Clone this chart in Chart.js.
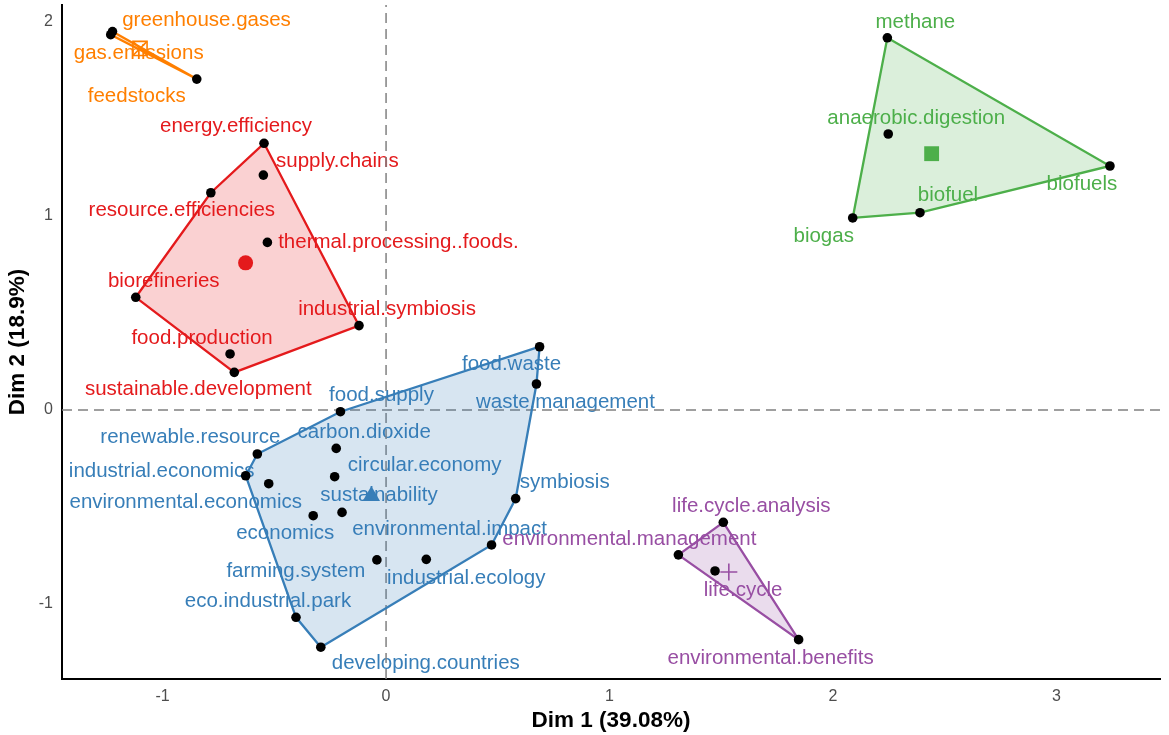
<!DOCTYPE html>
<html>
<head>
<meta charset="utf-8">
<script src="https://cdn.jsdelivr.net/npm/chart.js@4.4.0/dist/chart.umd.min.js"></script>
<style>
html,body{margin:0;padding:0;background:#fff}
#wrap{width:1169px;height:735px;position:relative}
</style>
</head>
<body>
<div id="wrap"><canvas id="myChart"></canvas></div>
<script>
// axis limits, ticks and titles
var xMin = -1.45, xMax = 3.463, yMin = -1.387, yMax = 2.088;
var xTicks = [-1, 0, 1, 2, 3];
var yTicks = [-1, 0, 1, 2];
var xTitle = 'Dim 1 (39.08%)';
var yTitle = 'Dim 2 (18.9%)';

// cluster 1 (orange)
var orangeNames = ['greenhouse.gases', 'gas.emissions', 'feedstocks'];
var orangeX = [-1.224, -1.232, -0.847];
var orangeY = [1.951, 1.935, 1.706];

// cluster 2 (red)
var redNames = ['energy.efficiency', 'supply.chains', 'resource.efficiencies', 'thermal.processing..foods.',
  'biorefineries', 'industrial.symbiosis', 'food.production', 'sustainable.development'];
var redX = [-0.546, -0.549, -0.784, -0.531, -1.120, -0.121, -0.698, -0.679];
var redY = [1.375, 1.211, 1.120, 0.864, 0.581, 0.435, 0.289, 0.194];

// cluster 3 (blue)
var blueNames = ['food.waste', 'waste.management', 'food.supply', 'renewable.resource', 'carbon.dioxide',
  'industrial.economics', 'environmental.economics', 'circular.economy', 'sustainability', 'symbiosis',
  'economics', 'environmental.impact', 'farming.system', 'industrial.ecology', 'eco.industrial.park',
  'developing.countries'];
var blueX = [0.687, 0.673, -0.204, -0.576, -0.223, -0.628, -0.525, -0.230, -0.197, 0.580,
  -0.326, 0.472, -0.041, 0.180, -0.403, -0.292];
var blueY = [0.326, 0.134, -0.009, -0.227, -0.198, -0.339, -0.380, -0.344, -0.528, -0.457,
  -0.545, -0.696, -0.773, -0.770, -1.069, -1.223];

// cluster 4 (purple)
var purpleNames = ['life.cycle.analysis', 'environmental.management', 'life.cycle', 'environmental.benefits'];
var purpleX = [1.509, 1.308, 1.472, 1.846];
var purpleY = [-0.579, -0.747, -0.830, -1.184];

// cluster 5 (green)
var greenNames = ['methane', 'anaerobic.digestion', 'biofuels', 'biofuel', 'biogas'];
var greenX = [2.243, 2.247, 3.239, 2.389, 2.088];
var greenY = [1.919, 1.423, 1.258, 1.017, 0.990];

// label placement (pixel offsets from the point, like ggrepel)
var orangeOff = [[94, -11], [28, 19], [-60, 17]];
var redOff = [[-28, -17], [74, -14], [-29, 18], [131, 0], [28, -16], [28, -16], [-28, -16], [-36, 17]];
var blueOff = [[-28, 18], [29, 18], [41, -16], [-67, -17], [28, -16], [-84, -4], [-83, 19], [90, -11],
  [37, -17], [49, -16], [-28, 18], [-42, -16], [-81, 11], [40, 19], [-28, -16], [105, 16]];
var purpleOff = [[28, -16], [-49, -16], [28, 19], [-28, 19]];
var greenOff = [[28, -15], [28, -16], [-28, 18], [28, -17], [-29, 18]];

var groups = [
  {names: orangeNames, x: orangeX, y: orangeY, off: orangeOff, col: '#FF7F00', fill: 'rgba(255,127,0,0.2)', shape: 'rect', r: 10, open: true},
  {names: redNames, x: redX, y: redY, off: redOff, col: '#E41A1C', fill: 'rgba(228,26,28,0.2)', shape: 'circle', r: 7.5},
  {names: blueNames, x: blueX, y: blueY, off: blueOff, col: '#377EB8', fill: 'rgba(55,126,184,0.2)', shape: 'triangle', r: 10},
  {names: purpleNames, x: purpleX, y: purpleY, off: purpleOff, col: '#984EA3', fill: 'rgba(152,78,163,0.2)', shape: 'cross', r: 8.5, open: true},
  {names: greenNames, x: greenX, y: greenY, off: greenOff, col: '#4DAF4A', fill: 'rgba(77,175,74,0.2)', shape: 'rect', r: 10.5}
];

var labelFont = '20.5px "Liberation Sans", Arial, sans-serif';

function hull(pts) {
  var p = pts.slice().sort((a, b) => a.x - b.x || a.y - b.y);
  var cross = (o, a, b) => (a.x - o.x) * (b.y - o.y) - (a.y - o.y) * (b.x - o.x);
  var lower = [], upper = [];
  p.forEach(q => {
    while (lower.length >= 2 && cross(lower[lower.length - 2], lower[lower.length - 1], q) <= 0) lower.pop();
    lower.push(q);
  });
  p.slice().reverse().forEach(q => {
    while (upper.length >= 2 && cross(upper[upper.length - 2], upper[upper.length - 1], q) <= 0) upper.pop();
    upper.push(q);
  });
  var h = lower.slice(0, -1).concat(upper.slice(0, -1));
  h.push(h[0]);
  return h;
}

var datasets = [];
// dashed zero lines
datasets.push({data: [{x: 0, y: yMin}, {x: 0, y: yMax}], showLine: true, pointRadius: 0, borderColor: '#808080',
  borderWidth: 1.5, borderDash: [10, 6], fill: false, order: 9});
datasets.push({data: [{x: xMin, y: 0}, {x: xMax, y: 0}], showLine: true, pointRadius: 0, borderColor: '#808080',
  borderWidth: 1.5, borderDash: [10, 6], fill: false, order: 9});

groups.forEach(g => {
  var pts = g.x.map((v, i) => ({x: v, y: g.y[i]}));
  datasets.push({data: hull(pts), showLine: true, pointRadius: 0, borderColor: g.col, borderWidth: 2.3,
    backgroundColor: g.fill, fill: 'shape', tension: 0, order: 5});
});
groups.forEach(g => {
  var pts = g.x.map((v, i) => ({x: v, y: g.y[i]}));
  datasets.push({data: pts, pointRadius: 4.8, pointBackgroundColor: '#000', pointBorderColor: '#000',
    pointBorderWidth: 0, order: 2});
});
groups.forEach(g => {
  var cx = g.x.reduce((a, b) => a + b, 0) / g.x.length;
  var cy = g.y.reduce((a, b) => a + b, 0) / g.y.length;
  datasets.push({data: [{x: cx, y: cy}], pointStyle: g.shape, pointRadius: g.r,
    pointBackgroundColor: g.open ? 'rgba(0,0,0,0)' : g.col, pointBorderColor: g.col,
    pointBorderWidth: g.open ? 1.6 : 0, order: 1});
  if (g.shape === 'rect' && g.open) {
    datasets.push({data: [{x: cx, y: cy}], pointStyle: 'crossRot', pointRadius: g.r,
      pointBorderColor: g.col, pointBorderWidth: 1.6, order: 1});
  }
});

var labelPlugin = {
  id: 'pointLabels',
  beforeDatasetsDraw(chart) {
    var c = chart.ctx, xs = chart.scales.x, ys = chart.scales.y;
    c.save();
    c.font = labelFont;
    c.textAlign = 'center';
    c.textBaseline = 'middle';
    groups.forEach(g => {
      c.fillStyle = g.col;
      g.names.forEach((n, i) => {
        c.fillText(n, xs.getPixelForValue(g.x[i]) + g.off[i][0], ys.getPixelForValue(g.y[i]) + g.off[i][1]);
      });
    });
    c.restore();
  }
};

var ctx = document.getElementById('myChart').getContext('2d');
var myChart = new Chart(ctx, {
  type: 'scatter',
  data: {datasets: datasets},
  plugins: [labelPlugin],
  options: {
    responsive: true,
    maintainAspectRatio: false,
    animation: false,
    layout: {autoPadding: false, padding: {top: 5, right: 9, left: 0, bottom: 0}},
    plugins: {legend: {display: false}, tooltip: {enabled: false}},
    scales: {
      x: {
        type: 'linear', min: xMin, max: xMax,
        grid: {display: false, drawTicks: false},
        border: {display: true, color: '#000', width: 2},
        ticks: {color: '#4d4d4d', padding: 8, font: {size: 16, family: '"Liberation Sans", Arial, sans-serif'}},
        title: {display: true, text: xTitle, color: '#000', padding: {top: 0, bottom: 1},
          font: {size: 22.5, weight: 'bold', family: '"Liberation Sans", Arial, sans-serif'}},
        afterBuildTicks: s => { s.ticks = xTicks.map(v => ({value: v})); },
        afterFit: s => { s.height = 56; s.paddingLeft = 0; s.paddingRight = 0; }
      },
      y: {
        type: 'linear', min: yMin, max: yMax,
        grid: {display: false, drawTicks: false},
        border: {display: true, color: '#000', width: 2},
        ticks: {color: '#4d4d4d', padding: 9, font: {size: 16, family: '"Liberation Sans", Arial, sans-serif'}},
        title: {display: true, text: yTitle, color: '#000', padding: {top: 4.5, bottom: 0},
          font: {size: 22.5, weight: 'bold', family: '"Liberation Sans", Arial, sans-serif'}},
        afterBuildTicks: s => { s.ticks = yTicks.map(v => ({value: v})); },
        afterFit: s => { s.width = 62; s.paddingTop = 0; s.paddingBottom = 0; }
      }
    }
  }
});
</script>
</body>
</html>
